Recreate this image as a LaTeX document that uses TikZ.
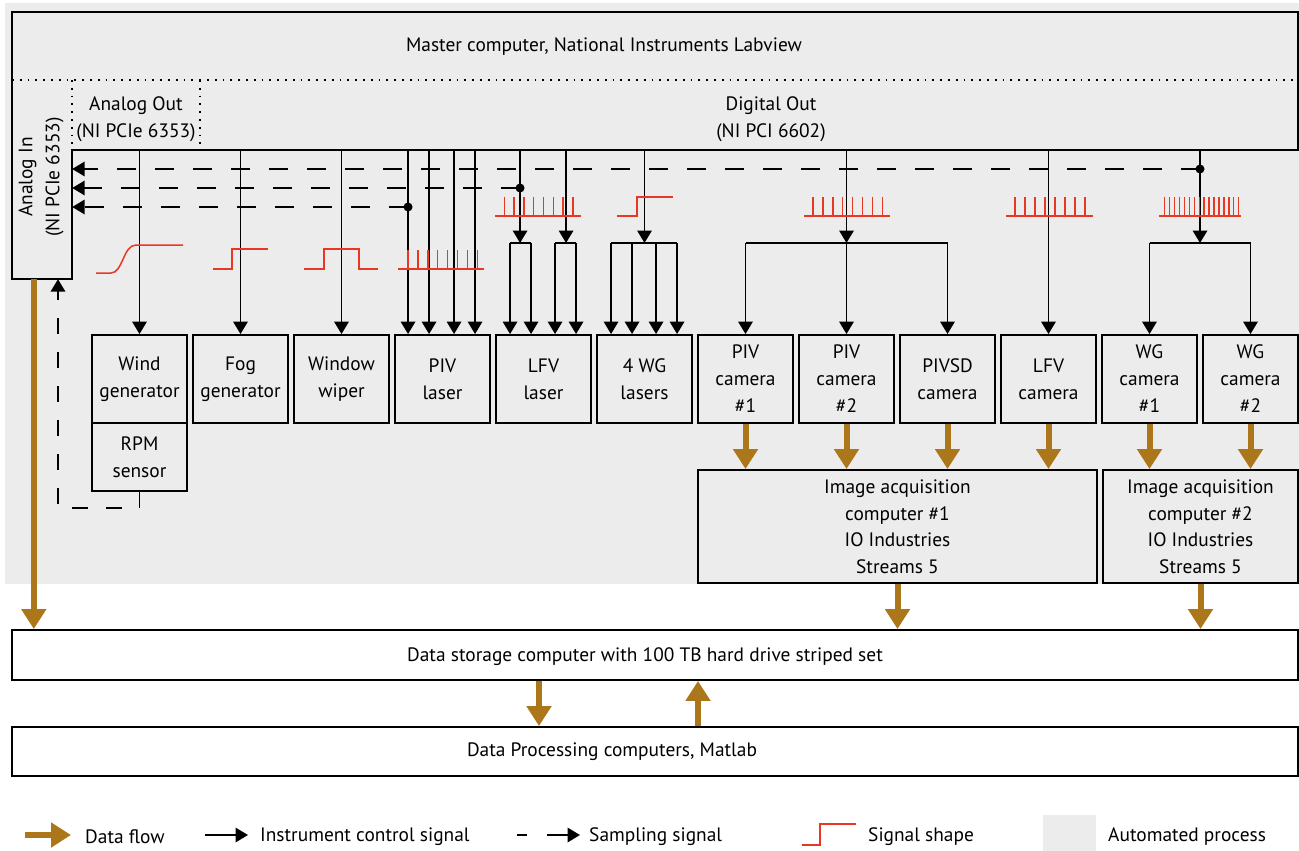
\documentclass[tikz,border=0pt]{standalone}
\usepackage{fontspec}
\setmainfont{PT Sans}
\usetikzlibrary{arrows.meta}
\definecolor{bg}{RGB}{236,236,236}
\definecolor{brn}{RGB}{172,119,27}
\definecolor{sig}{RGB}{232,56,36}
\begin{document}
\begin{tikzpicture}[x=1pt,y=-1pt,
  every node/.style={font=\fontsize{19.4}{27}\selectfont},
  box/.style={draw, line width=1.9pt, minimum width=95pt, minimum height=88pt, inner sep=0pt, align=center},
  wire/.style={line width=1.9pt},
  ctrl/.style={line width=1.9pt, -{Triangle[length=12.5pt,width=14.5pt]}},
  samp/.style={line width=1.9pt, dash pattern=on 19pt off 19pt, -{Triangle[length=12.5pt,width=14.5pt]}},
  flow/.style={brn, line width=6pt, -{Triangle[length=20pt,width=24pt]}},
  sigl/.style={sig, line width=1.5pt},
  dotl/.style={line width=1.6pt, dash pattern=on 1.8pt off 6pt},
  lgd/.style={anchor=west, inner sep=0pt}
  ]
\useasboundingbox (0,0) rectangle (1299,851);
\fill[bg] (5,3) rectangle (1299,584);

% master computer outline
\draw[wire] (72,150) -- (1298,150) -- (1298,12) -- (12,12) -- (12,279) -- (72,279) -- cycle;
\draw[dotl] (12,80) -- (1298,80);
\draw[dotl] (72,80) -- (72,150);
\draw[dotl] (200,80) -- (200,150);
\node (master) at (604,46.5) {Master computer, National Instruments Labview};
\node[align=center] (aout) at (136,119) {Analog Out\\(NI PCIe 6353)};
\node[align=center] (dout) at (771,119) {Digital Out\\(NI PCI 6602)};
\node[minimum width=60pt, minimum height=199pt, inner sep=0pt] (ain) at (42,179.5) {};
\node[rotate=90, align=center] (aintxt) at (41,177) {Analog In\\(NI PCIe 6353)};
\coordinate (bus) at (0,150);

% instrument boxes
\node[box] (wind)  at (139.5,379) {Wind\\generator};
\node[box, minimum height=68pt] (rpm) at (139.5,457) {RPM\\sensor};
\node[box] (fog)   at (240.5,379) {Fog\\generator};
\node[box] (wiper) at (341.5,379) {Window\\wiper};
\node[box] (pivl)  at (442.5,379) {PIV\\laser};
\node[box] (lfvl)  at (543.5,379) {LFV\\laser};
\node[box] (wgl)   at (644.5,379) {4 WG\\lasers};
\node[box] (pivc1) at (745.5,379) {PIV\\camera\\\#1};
\node[box] (pivc2) at (846.5,379) {PIV\\camera\\\#2};
\node[box] (pivsd) at (947.5,379) {PIVSD\\camera};
\node[box] (lfvc)  at (1048.5,379) {LFV\\camera};
\node[box] (wgc1)  at (1149.5,379) {WG\\camera\\\#1};
\node[box] (wgc2)  at (1250.5,379) {WG\\camera\\\#2};

\node[box, minimum width=399pt, minimum height=113pt, font=\fontsize{19.4}{26.5}\selectfont] (ia1) at (897.5,526.5) {Image acquisition\\computer \#1\\IO Industries\\Streams 5};
\node[box, minimum width=195pt, minimum height=113pt, font=\fontsize{19.4}{26.5}\selectfont] (ia2) at (1200.5,526.5) {Image acquisition\\computer \#2\\IO Industries\\Streams 5};
\node[box, fill=white, minimum width=1286pt, minimum height=50pt] (store) at (655,655) {};
\node (storetxt) at (645,656.5) {Data storage computer with 100 TB hard drive striped set};
\node[box, fill=white, minimum width=1286pt, minimum height=49pt] (proc) at (655,751.5) {};
\node (proctxt) at (612,751.5) {Data Processing computers, Matlab};

% control signals
\draw[ctrl] (wind.north |- bus) -- (wind.north);
\draw[ctrl] (fog.north |- bus) -- (fog.north);
\draw[ctrl] (wiper.north |- bus) -- (wiper.north);
\foreach \dx in {14,35,60,81}
  \draw[ctrl] ([xshift=\dx pt]pivl.north west |- bus) -- ([xshift=\dx pt]pivl.north west);
% LFV laser
\coordinate (la) at ([xshift=25pt]lfvl.north west);
\coordinate (lb) at ([xshift=71pt]lfvl.north west);
\coordinate (split) at (0,243);
\draw[ctrl] (la |- bus) -- (la |- split);
\draw[ctrl] (lb |- bus) -- (lb |- split);
\draw[wire] ([xshift=15pt]lfvl.north west |- split) -- ([xshift=36pt]lfvl.north west |- split);
\draw[wire] ([xshift=60pt]lfvl.north west |- split) -- ([xshift=81pt]lfvl.north west |- split);
\foreach \dx in {15,36,60,81}
  \draw[ctrl] ([xshift=\dx pt]lfvl.north west |- split) -- ([xshift=\dx pt]lfvl.north west);
% WG lasers
\draw[ctrl] (wgl.north |- bus) -- (wgl.north |- split);
\draw[wire] ([xshift=15pt]wgl.north west |- split) -- ([xshift=81pt]wgl.north west |- split);
\foreach \dx in {15,36,60,81}
  \draw[ctrl] ([xshift=\dx pt]wgl.north west |- split) -- ([xshift=\dx pt]wgl.north west);
% PIV cameras
\draw[ctrl] (pivc2.north |- bus) -- (pivc2.north |- split);
\draw[wire] (pivc1.north |- split) -- (pivsd.north |- split);
\draw[ctrl] (pivc1.north |- split) -- (pivc1.north);
\draw[ctrl] (pivc2.north |- split) -- (pivc2.north);
\draw[ctrl] (pivsd.north |- split) -- (pivsd.north);
% LFV camera
\draw[ctrl] (lfvc.north |- bus) -- (lfvc.north);
% WG cameras
\coordinate (wgs) at (1200,243);
\draw[ctrl] (wgs |- bus) -- (wgs);
\draw[wire] (wgc1.north |- split) -- (wgc2.north |- split);
\draw[ctrl] (wgc1.north |- split) -- (wgc1.north);
\draw[ctrl] (wgc2.north |- split) -- (wgc2.north);

% sampling signals
\coordinate (d1) at ([xshift=14pt]pivl.north west |- 0,207);
\coordinate (d2) at (la |- 0,188);
\coordinate (d3) at (wgs |- 0,169);
\draw[samp] (d1) -- (ain.east |- d1);
\draw[samp] (d2) -- (ain.east |- d2);
\draw[samp] (d3) -- (ain.east |- d3);
\fill (d1) circle (4.5pt);
\fill (d2) circle (4.5pt);
\fill (d3) circle (4.5pt);
\coordinate (rc) at (58,508);
\draw[samp, dash pattern=on 16pt off 18pt] (rpm.south) |- (rc) -- (rc |- ain.south);

% signal shapes
\draw[sigl] (96,273) -- (111,273) .. controls (123,273) and (123,245) .. (136,245) -- (183,245);
\draw[sigl] (213,269) -- (232,269) -- (232,249) -- (268,249);
\draw[sigl] (304,269) -- (324,269) -- (324,249) -- (359,249) -- (359,269) -- (378,269);
\draw[sigl] (398,269) -- (484,269);
\foreach \i in {0,...,7} \draw[sigl] (408+9.9*\i,269) -- ++(0,-19);
\draw[sigl] (495,216) -- (581,216);
\foreach \i in {0,...,7} \draw[sigl] (504.3+9.8*\i,216) -- ++(0,-19);
\draw[sigl] (617,216) -- (637,216) -- (637,197) -- (673,197);
\draw[sigl] (804,216) -- (890,216);
\foreach \i in {0,...,7} \draw[sigl] (813+9.9*\i,216) -- ++(0,-19);
\draw[sigl] (1006,216) -- (1093,216);
\foreach \i in {0,...,7} \draw[sigl] (1015+10*\i,216) -- ++(0,-19);
\draw[sigl] (1159,216) -- (1241,216);
\foreach \i in {0,...,15} \draw[sigl, line width=1.3pt] (1164.5+4.95*\i,216) -- ++(0,-19);

% data flow
\draw[flow] ([xshift=22pt]ain.south west) -- ([xshift=22pt]ain.south west |- store.north);
\foreach \c in {pivc1,pivc2,pivsd,lfvc}
  \draw[flow] (\c.south) -- (\c.south |- ia1.north);
\foreach \c in {wgc1,wgc2}
  \draw[flow] (\c.south) -- (\c.south |- ia2.north);
\draw[flow] (ia1.south) -- (ia1.south |- store.north);
\draw[flow] (ia2.south) -- (ia2.south |- store.north);
\coordinate (dn) at (539,0);
\coordinate (up) at (698,0);
\draw[flow] (store.south -| dn) -- (proc.north -| dn);
\draw[flow] (proc.north -| up) -- (store.south -| up);

% legend
\coordinate (l1a) at (25,835); \coordinate (l1b) at (71,835);
\draw[flow] (l1a) -- (l1b);
\node[lgd] (t1) at (85,837) {Data flow};
\coordinate (l2a) at (205,835); \coordinate (l2b) at (248,835);
\draw[ctrl] (l2a) -- (l2b);
\node[lgd] (t2) at (260,837) {Instrument control signal};
\coordinate (l3a) at (517,835); \coordinate (l3b) at (527,835);
\coordinate (l3c) at (547,835); \coordinate (l3d) at (580,835);
\draw[wire] (l3a) -- (l3b);
\draw[ctrl] (l3c) -- (l3d);
\node[lgd] (t3) at (589,837) {Sampling signal};
\draw[sigl] (802,845) -- (820,845) -- (820,824) -- (856,824);
\node[lgd] (t4) at (868,837) {Signal shape};
\fill[bg] (1043,815) rectangle (1096,851);
\node[lgd] (t5) at (1108,837) {Automated process};
\end{tikzpicture}
\end{document}
